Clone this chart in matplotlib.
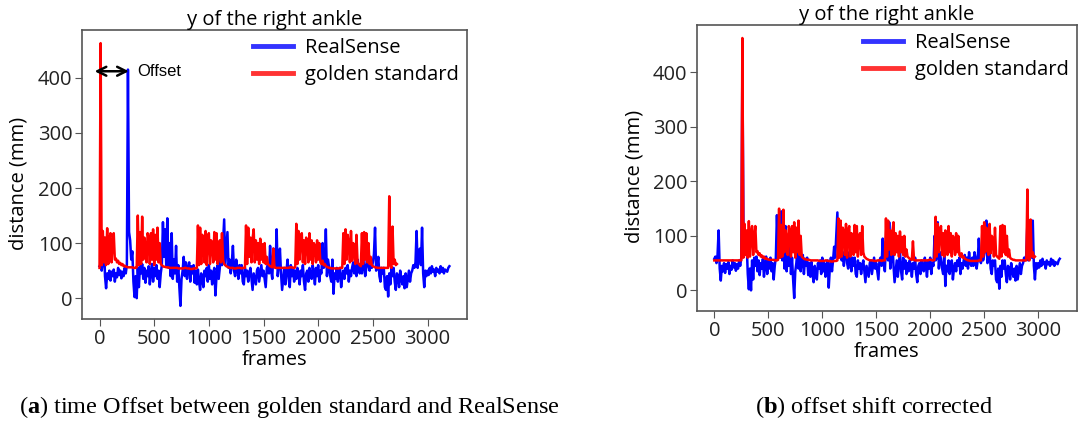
import numpy as np
import matplotlib
matplotlib.use("Agg")
import matplotlib.pyplot as plt

# frame step used when reading the traces off the figure
STEP = 10
# shift (frames) between golden standard and RealSense
OFFSET = 250
GOLD_PAD = 55

# RealSense y of the right ankle (mm), one value every STEP frames from 0
realsense_mm = [
    58, 62, 50, 65, 110, 40, 18, 45, 35, 50,
    32, 48, 40, 52, 30, 45, 38, 55, 42, 50,
    36, 48, 40, 55, 45, 60, 415, 120, 105, 70,
    85, 30, 2, 40, 0, 55, 20, 60, 45, 62,
    35, 55, 28, 50, 40, 58, 25, 48, 62, 30,
    55, 40, 60, 35, 50, 20, 45, 60, 138, 75,
    125, 60, 145, 55, 100, 40, 118, 35, 70, 45,
    95, 30, 60, 20, -14, 35, 50, 75, 40, 65,
    35, 55, 65, 30, 58, 45, 60, 28, 50, 25,
    52, 30, 15, 45, 35, 20, 50, 40, 55, 30,
    60, 35, 50, 25, 45, 55, 5, 40, 60, 35,
    55, 80, 60, 100, 143, 60, 90, 120, 55, 70,
    45, 65, 95, 50, 40, 70, 55, 35, 60, 45,
    60, 30, 25, 55, 40, 50, 30, 45, 55, 35,
    15, 45, 35, 25, 50, 55, 30, 45, 60, 40,
    50, 35, 20, 55, 60, 45, 95, 50, 35, 90,
    75, 55, 125, 40, 60, 90, 45, 15, 35, 55,
    25, 50, 70, 35, 20, 60, 40, 55, 30, 50,
    35, 55, 45, 25, 50, 40, 60, 30, 15, 45,
    50, 30, 55, 40, 35, 60, 45, 25, 55, 40,
    60, 30, 50, 45, 100, 55, 60, 125, 40, 70,
    55, 40, 30, 70, 8, 45, 35, 55, 30, 50,
    55, 20, 40, 50, 35, 55, 45, 60, 30, 50,
    40, 55, 65, 45, 60, 40, 70, 50, 45, 60,
    45, 70, 60, 40, 55, 95, 60, 50, 70, 55,
    65, 80, 128, 50, 60, 75, 40, 30, 55, 45,
    55, 20, 15, 40, 3, 45, 25, 55, 40, 55,
    30, 15, 45, 40, 20, 50, 35, 25, 40, 18,
    45, 20, 35, 50, 30, 45, 50, 60, 55, 65,
    122, 55, 80, 90, 60, 128, 45, 20, 50, 40,
    50, 42, 55, 45, 58, 48, 52, 40, 55, 48,
    52, 45, 58, 48, 55, 45, 52, 50, 48, 55,
    58,
]

# golden standard y of the right ankle (mm), one value every STEP frames from 0
gold_mm = [
    55, 463, 60, 122, 65, 110, 60, 127, 62, 105,
    118, 65, 100, 118, 70, 72, 65, 68, 62, 64,
    60, 62, 58, 59, 57, 57, 56, 56, 56, 56,
    56, 55, 55, 55, 56, 150, 60, 120, 62, 148,
    70, 110, 95, 65, 118, 108, 62, 118, 70, 125,
    60, 115, 70, 128, 65, 100, 62, 60, 58, 57,
    57, 56, 56, 56, 55, 55, 55, 55, 55, 55,
    55, 55, 54, 54, 54, 54, 54, 54, 55, 55,
    54, 54, 54, 53, 53, 53, 54, 54, 54, 55,
    132, 60, 128, 62, 115, 108, 65, 122, 60, 110,
    118, 62, 105, 100, 65, 120, 70, 118, 62, 95,
    105, 65, 118, 70, 62, 60, 58, 57, 56, 55,
    55, 55, 55, 54, 54, 54, 55, 55, 55, 55,
    54, 55, 55, 55, 132, 62, 128, 75, 110, 65,
    108, 125, 65, 105, 70, 100, 62, 108, 70, 98,
    65, 100, 62, 75, 62, 60, 58, 57, 56, 90,
    56, 55, 55, 55, 55, 55, 55, 55, 55, 55,
    55, 55, 55, 55, 56, 56, 56, 55, 55, 56,
    135, 62, 122, 70, 110, 118, 65, 105, 62, 110,
    100, 65, 118, 70, 105, 62, 100, 95, 65, 105,
    70, 100, 65, 62, 68, 60, 62, 58, 57, 56,
    55, 55, 54, 54, 54, 54, 54, 54, 54, 54,
    55, 55, 55, 118, 62, 125, 70, 115, 100, 65,
    122, 68, 100, 95, 62, 115, 65, 62, 60, 58,
    118, 62, 120, 70, 118, 65, 100, 62, 75, 60,
    58, 57, 56, 56, 55, 55, 55, 55, 55, 55,
    55, 55, 55, 55, 55, 185, 60, 55, 130, 62,
    70, 60, 62,
]

x_ticks = [0, 500, 1000, 1500, 2000, 2500, 3000]
y_ticks = [0, 100, 200, 300, 400]


def format_plot():
    plt.rcParams.update({
        "font.family": ["Open Sans", "DejaVu Sans"],
        "font.size": 14.5,
        "axes.linewidth": 1.2,
        "axes.edgecolor": "#555555",
        "xtick.color": "#555555",
        "ytick.color": "#555555",
        "xtick.labelcolor": "#222222",
        "ytick.labelcolor": "#222222",
        "xtick.major.size": 5,
        "ytick.major.size": 5,
        "xtick.major.pad": 2,
        "ytick.major.pad": 2,
        "mathtext.fontset": "custom",
        "mathtext.rm": "Liberation Serif",
        "mathtext.bf": "Liberation Serif:bold",
    })


def style_axes(ax):
    ax.set_title("y of the right ankle", fontsize=14.5, pad=0)
    ax.set_xlabel("frames", labelpad=1)
    ax.set_ylabel("distance (mm)")
    ax.yaxis.set_label_coords(-0.138, 0.47)
    ax.set_xticks(x_ticks)
    ax.set_yticks(y_ticks)
    leg = ax.legend(loc="upper right", frameon=False, handlelength=2.0,
                    handletextpad=0.6, labelspacing=0.35,
                    borderaxespad=0.0, bbox_to_anchor=(1.0, 1.0))
    for line in leg.get_lines():
        line.set_linewidth(3.5)
        line.set_alpha(0.8)


def main():
    format_plot()
    rs = np.array(realsense_mm)
    gold = np.array(gold_mm)
    rs_frames = np.arange(len(rs)) * STEP
    gold_frames = np.arange(len(gold)) * STEP

    fig = plt.figure(figsize=(10.78, 4.24), dpi=100)
    ax1 = fig.add_axes([0.0761, 0.2476, 0.357, 0.6816])
    ax2 = fig.add_axes([0.6466, 0.2665, 0.3525, 0.6745])

    # (a) raw signals, golden standard not yet shifted
    ax1.plot(rs_frames, rs, color="blue", lw=1.8, label="RealSense")
    ax1.plot(gold_frames, gold, color="red", lw=1.8, label="golden standard")
    ax1.annotate("", xy=(-45, 412), xytext=(268, 412),
                 arrowprops=dict(arrowstyle="<->", color="black", lw=1.8,
                                 mutation_scale=16, shrinkA=0, shrinkB=0))
    ax1.text(345, 412, "Offset", fontsize=12, family="Liberation Sans",
             va="center", ha="left")
    style_axes(ax1)

    # (b) golden standard shifted by OFFSET frames
    gx = np.concatenate([[0], gold_frames + OFFSET])
    gy = np.concatenate([[GOLD_PAD], gold])
    ax2.plot(rs_frames, rs, color="blue", lw=1.8, label="RealSense")
    ax2.plot(gx, gy, color="red", lw=1.8, label="golden standard")
    style_axes(ax2)

    fig.text(0.268, 0.04, r"($\mathbf{a}$) time Offset between golden standard and RealSense",
             family="Liberation Serif", fontsize=17.5, ha="center", va="center")
    fig.text(0.811, 0.04, r"($\mathbf{b}$) offset shift corrected",
             family="Liberation Serif", fontsize=17.5, ha="center", va="center")

    fig.savefig("out.png", dpi=100)


if __name__ == "__main__":
    main()
